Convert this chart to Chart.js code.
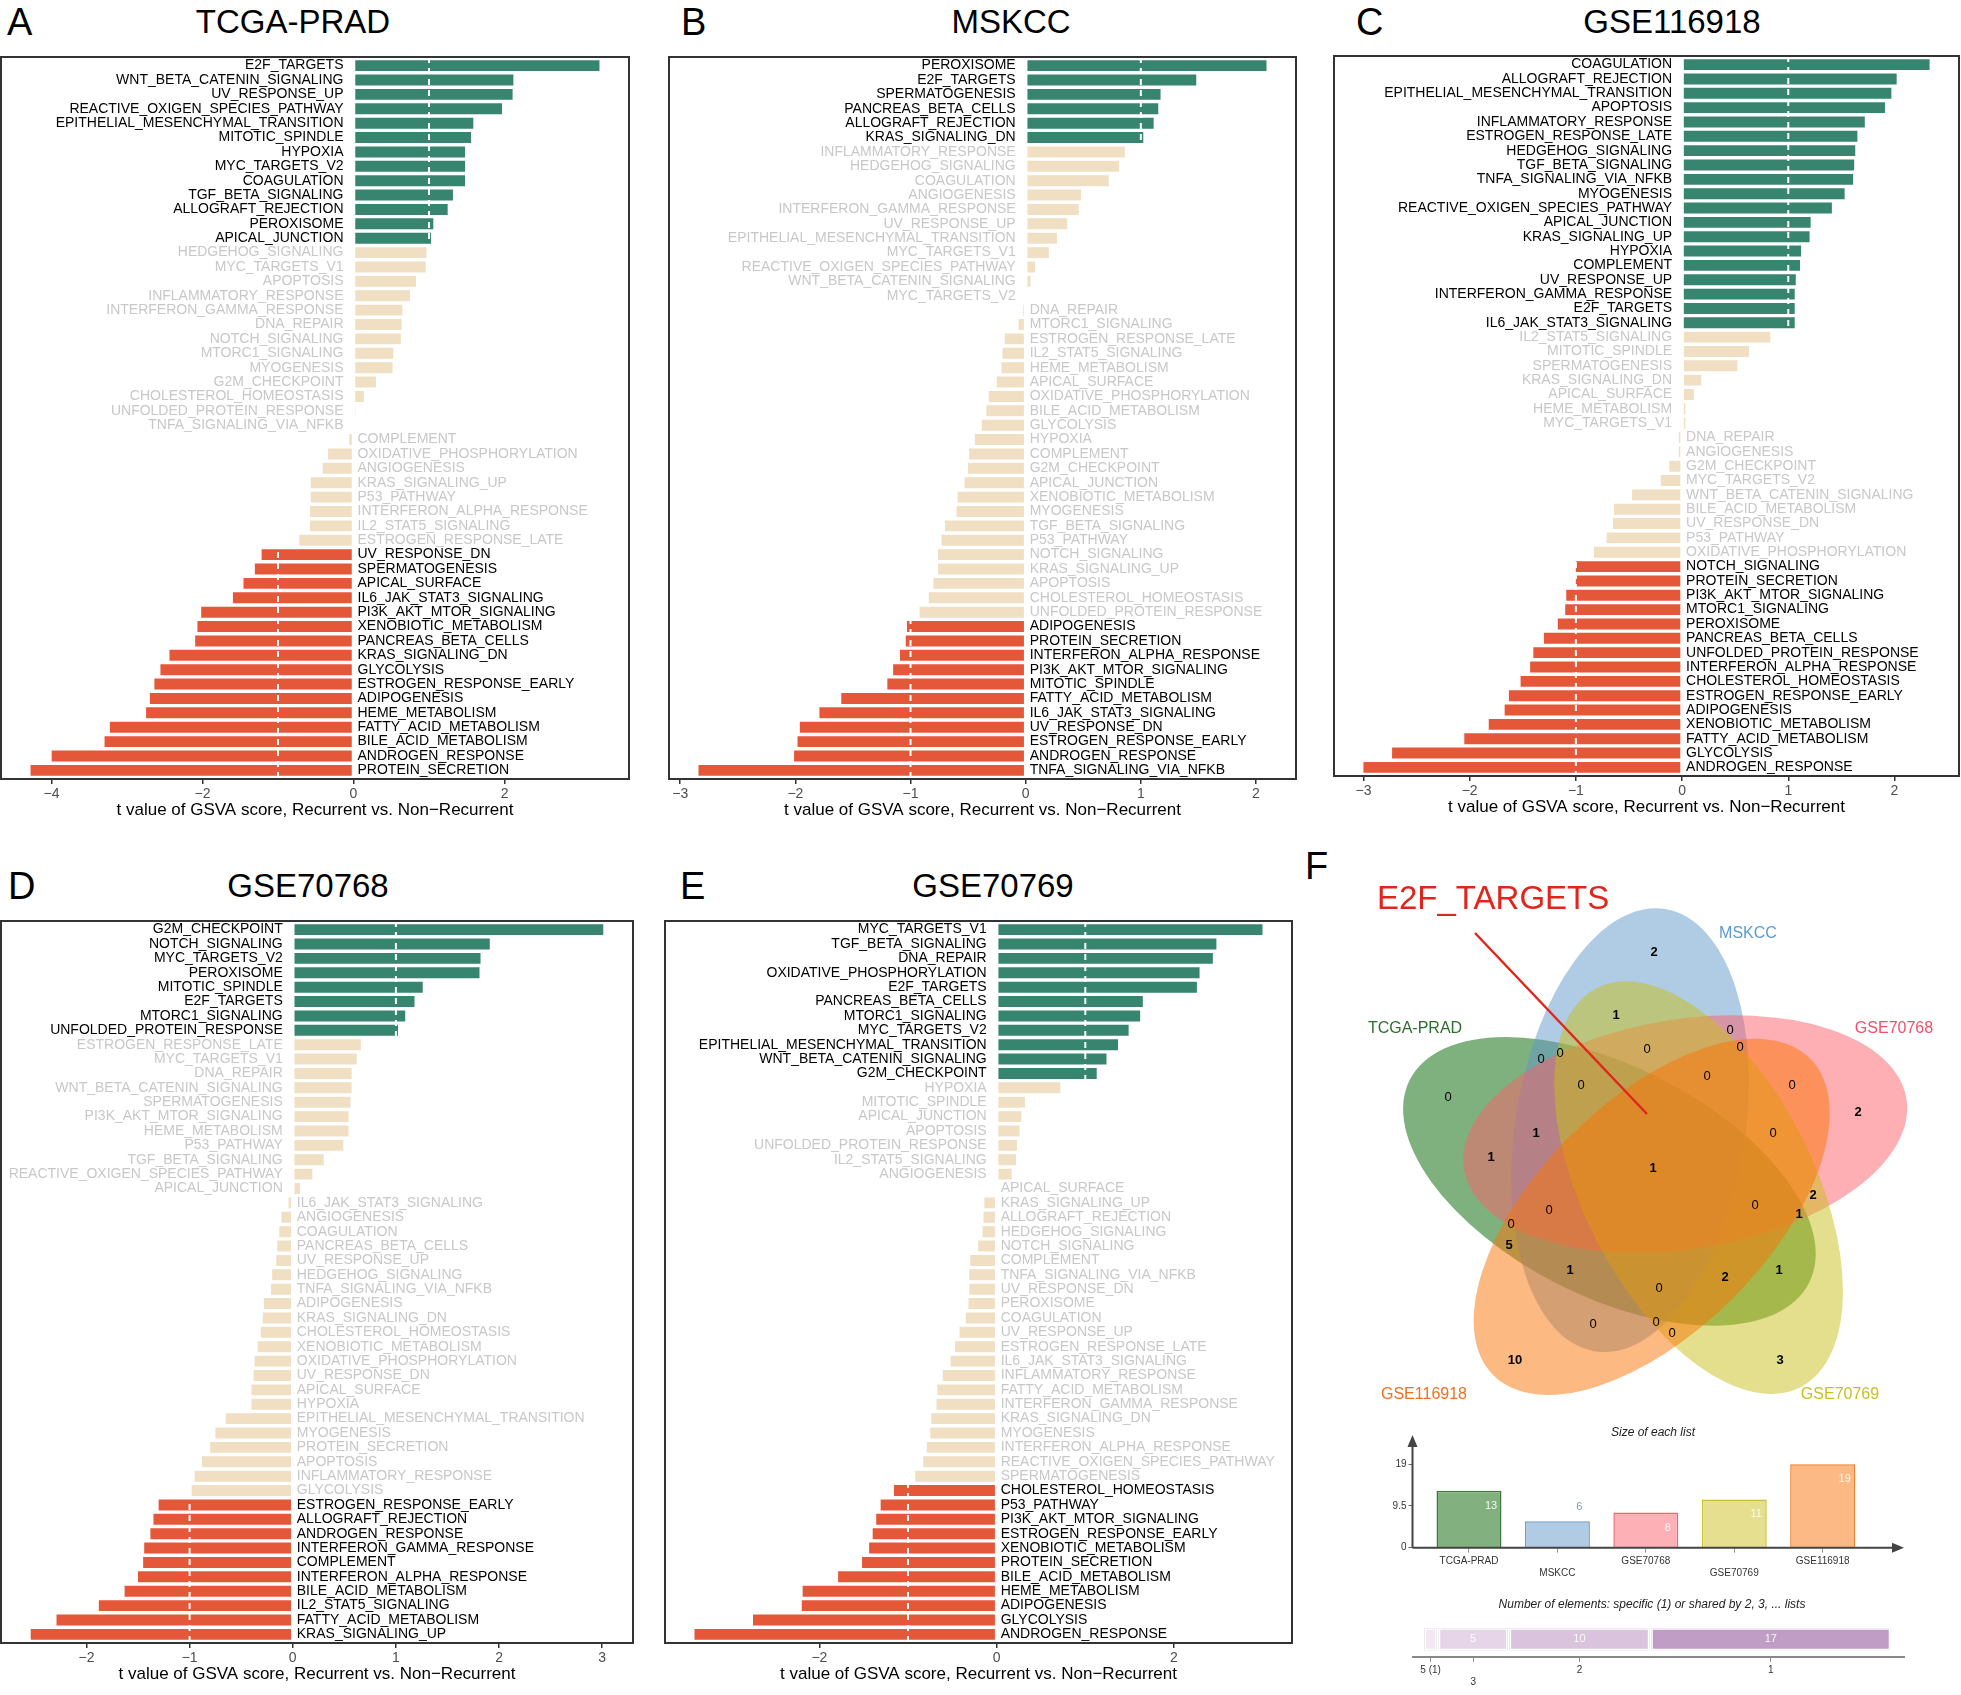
<!DOCTYPE html>
<html>
<head>
<meta charset="utf-8">
<title>GSVA hallmark t values, recurrent vs non-recurrent</title>
<script src="https://cdn.jsdelivr.net/npm/chart.js@4.4.1/dist/chart.umd.min.js"></script>
<style>
  body { margin: 0; background: #fff; }
  #page { position: relative; width: 1961px; height: 1695px; overflow: hidden; background: #fff;
          font-family: "Liberation Sans", Arial, Helvetica, sans-serif; color: #000; }
  #page canvas { position: absolute; display: block; }
  .txt { position: absolute; transform: translate(-50%, -50%); white-space: nowrap; line-height: normal; }
  .letter { position: absolute; transform: translateY(-50%); font-size: 38px; line-height: normal; }
  .ptitle { font-size: 33px; }
  .small { font-size: 12px; font-style: italic; color: #222; }
</style>
</head>
<body>
<div id="page">
  <div class="letter" style="left:7px;top:22px">A</div>
  <div class="txt ptitle" style="left:293px;top:22px">TCGA-PRAD</div>
  <div class="letter" style="left:681px;top:22px">B</div>
  <div class="txt ptitle" style="left:1011px;top:22px">MSKCC</div>
  <div class="letter" style="left:1356px;top:22px">C</div>
  <div class="txt ptitle" style="left:1672px;top:22px">GSE116918</div>
  <div class="letter" style="left:8px;top:886px">D</div>
  <div class="txt ptitle" style="left:308px;top:886px">GSE70768</div>
  <div class="letter" style="left:680px;top:886px">E</div>
  <div class="txt ptitle" style="left:993px;top:886px">GSE70769</div>
  <div class="letter" style="left:1305px;top:866px">F</div>

  <canvas id="chartA"></canvas>
  <canvas id="chartB"></canvas>
  <canvas id="chartC"></canvas>
  <canvas id="chartD"></canvas>
  <canvas id="chartE"></canvas>
  <canvas id="venn"></canvas>
  <canvas id="sizes"></canvas>
  <canvas id="shared"></canvas>

  <div class="txt small" style="left:1653px;top:1432px">Size of each list</div>
  <div class="txt small" style="left:1652px;top:1604px">Number of elements: specific (1) or shared by 2, 3, ... lists</div>
</div>

<script>
Chart.defaults.font.family = '"Liberation Sans", Arial, Helvetica, sans-serif';

// HALLMARK t VALUES OF GSVA SCORE, ONE PAIR OF ARRAYS PER COHORT (top to bottom)

const tcgaPathways = ['E2F_TARGETS', 'WNT_BETA_CATENIN_SIGNALING', 'UV_RESPONSE_UP', 'REACTIVE_OXIGEN_SPECIES_PATHWAY',
  'EPITHELIAL_MESENCHYMAL_TRANSITION', 'MITOTIC_SPINDLE', 'HYPOXIA', 'MYC_TARGETS_V2', 'COAGULATION', 'TGF_BETA_SIGNALING',
  'ALLOGRAFT_REJECTION', 'PEROXISOME', 'APICAL_JUNCTION', 'HEDGEHOG_SIGNALING', 'MYC_TARGETS_V1', 'APOPTOSIS',
  'INFLAMMATORY_RESPONSE', 'INTERFERON_GAMMA_RESPONSE', 'DNA_REPAIR', 'NOTCH_SIGNALING', 'MTORC1_SIGNALING', 'MYOGENESIS',
  'G2M_CHECKPOINT', 'CHOLESTEROL_HOMEOSTASIS', 'UNFOLDED_PROTEIN_RESPONSE', 'TNFA_SIGNALING_VIA_NFKB', 'COMPLEMENT',
  'OXIDATIVE_PHOSPHORYLATION', 'ANGIOGENESIS', 'KRAS_SIGNALING_UP', 'P53_PATHWAY', 'INTERFERON_ALPHA_RESPONSE',
  'IL2_STAT5_SIGNALING', 'ESTROGEN_RESPONSE_LATE', 'UV_RESPONSE_DN', 'SPERMATOGENESIS', 'APICAL_SURFACE',
  'IL6_JAK_STAT3_SIGNALING', 'PI3K_AKT_MTOR_SIGNALING', 'XENOBIOTIC_METABOLISM', 'PANCREAS_BETA_CELLS', 'KRAS_SIGNALING_DN',
  'GLYCOLYSIS', 'ESTROGEN_RESPONSE_EARLY', 'ADIPOGENESIS', 'HEME_METABOLISM', 'FATTY_ACID_METABOLISM',
  'BILE_ACID_METABOLISM', 'ANDROGEN_RESPONSE', 'PROTEIN_SECRETION'];
const tcgaT = [3.27, 2.13, 2.12, 1.98, 1.60, 1.57, 1.49, 1.49, 1.49, 1.33, 1.26, 1.07, 1.04, 0.98, 0.97, 0.84, 0.76,
  0.66, 0.65, 0.64, 0.54, 0.53, 0.31, 0.15, 0.04, 0.03, -0.07, -0.35, -0.42, -0.58, -0.58, -0.59, -0.59, -0.73,
  -1.23, -1.32, -1.47, -1.61, -2.03, -2.08, -2.11, -2.45, -2.57, -2.65, -2.71, -2.76, -3.24, -3.31, -4.01, -4.29];
const tcgaTicks = [-4, -2, 0, 2];

const mskccPathways = ['PEROXISOME', 'E2F_TARGETS', 'SPERMATOGENESIS', 'PANCREAS_BETA_CELLS', 'ALLOGRAFT_REJECTION',
  'KRAS_SIGNALING_DN', 'INFLAMMATORY_RESPONSE', 'HEDGEHOG_SIGNALING', 'COAGULATION', 'ANGIOGENESIS',
  'INTERFERON_GAMMA_RESPONSE', 'UV_RESPONSE_UP', 'EPITHELIAL_MESENCHYMAL_TRANSITION', 'MYC_TARGETS_V1',
  'REACTIVE_OXIGEN_SPECIES_PATHWAY', 'WNT_BETA_CATENIN_SIGNALING', 'MYC_TARGETS_V2', 'DNA_REPAIR', 'MTORC1_SIGNALING',
  'ESTROGEN_RESPONSE_LATE', 'IL2_STAT5_SIGNALING', 'HEME_METABOLISM', 'APICAL_SURFACE', 'OXIDATIVE_PHOSPHORYLATION',
  'BILE_ACID_METABOLISM', 'GLYCOLYSIS', 'HYPOXIA', 'COMPLEMENT', 'G2M_CHECKPOINT', 'APICAL_JUNCTION',
  'XENOBIOTIC_METABOLISM', 'MYOGENESIS', 'TGF_BETA_SIGNALING', 'P53_PATHWAY', 'NOTCH_SIGNALING', 'KRAS_SIGNALING_UP',
  'APOPTOSIS', 'CHOLESTEROL_HOMEOSTASIS', 'UNFOLDED_PROTEIN_RESPONSE', 'ADIPOGENESIS', 'PROTEIN_SECRETION',
  'INTERFERON_ALPHA_RESPONSE', 'PI3K_AKT_MTOR_SIGNALING', 'MITOTIC_SPINDLE', 'FATTY_ACID_METABOLISM',
  'IL6_JAK_STAT3_SIGNALING', 'UV_RESPONSE_DN', 'ESTROGEN_RESPONSE_EARLY', 'ANDROGEN_RESPONSE', 'TNFA_SIGNALING_VIA_NFKB'];
const mskccT = [2.10, 1.49, 1.18, 1.16, 1.12, 1.03, 0.87, 0.82, 0.73, 0.49, 0.47, 0.37, 0.28, 0.21, 0.09, 0.05, 0.01,
  -0.03, -0.07, -0.19, -0.21, -0.22, -0.26, -0.33, -0.35, -0.39, -0.45, -0.50, -0.51, -0.54, -0.60, -0.61, -0.71,
  -0.74, -0.77, -0.77, -0.81, -0.85, -0.93, -1.04, -1.05, -1.10, -1.16, -1.21, -1.61, -1.80, -1.97, -1.99, -2.02, -2.85];
const mskccTicks = [-3, -2, -1, 0, 1, 2];

const gse116918Pathways = ['COAGULATION', 'ALLOGRAFT_REJECTION', 'EPITHELIAL_MESENCHYMAL_TRANSITION', 'APOPTOSIS',
  'INFLAMMATORY_RESPONSE', 'ESTROGEN_RESPONSE_LATE', 'HEDGEHOG_SIGNALING', 'TGF_BETA_SIGNALING', 'TNFA_SIGNALING_VIA_NFKB',
  'MYOGENESIS', 'REACTIVE_OXIGEN_SPECIES_PATHWAY', 'APICAL_JUNCTION', 'KRAS_SIGNALING_UP', 'HYPOXIA', 'COMPLEMENT',
  'UV_RESPONSE_UP', 'INTERFERON_GAMMA_RESPONSE', 'E2F_TARGETS', 'IL6_JAK_STAT3_SIGNALING', 'IL2_STAT5_SIGNALING',
  'MITOTIC_SPINDLE', 'SPERMATOGENESIS', 'KRAS_SIGNALING_DN', 'APICAL_SURFACE', 'HEME_METABOLISM', 'MYC_TARGETS_V1',
  'DNA_REPAIR', 'ANGIOGENESIS', 'G2M_CHECKPOINT', 'MYC_TARGETS_V2', 'WNT_BETA_CATENIN_SIGNALING', 'BILE_ACID_METABOLISM',
  'UV_RESPONSE_DN', 'P53_PATHWAY', 'OXIDATIVE_PHOSPHORYLATION', 'NOTCH_SIGNALING', 'PROTEIN_SECRETION',
  'PI3K_AKT_MTOR_SIGNALING', 'MTORC1_SIGNALING', 'PEROXISOME', 'PANCREAS_BETA_CELLS', 'UNFOLDED_PROTEIN_RESPONSE',
  'INTERFERON_ALPHA_RESPONSE', 'CHOLESTEROL_HOMEOSTASIS', 'ESTROGEN_RESPONSE_EARLY', 'ADIPOGENESIS',
  'XENOBIOTIC_METABOLISM', 'FATTY_ACID_METABOLISM', 'GLYCOLYSIS', 'ANDROGEN_RESPONSE'];
const gse116918T = [2.34, 2.03, 1.98, 1.92, 1.73, 1.66, 1.64, 1.63, 1.62, 1.54, 1.42, 1.22, 1.21, 1.13, 1.12, 1.08,
  1.07, 1.07, 1.07, 0.84, 0.64, 0.53, 0.19, 0.12, 0.04, 0.04, -0.04, -0.04, -0.13, -0.21, -0.48, -0.65, -0.66, -0.72,
  -0.84, -1.01, -1.01, -1.10, -1.11, -1.18, -1.31, -1.41, -1.44, -1.53, -1.64, -1.68, -1.83, -2.06, -2.74, -3.01];
const gse116918Ticks = [-3, -2, -1, 0, 1, 2];

const gse70768Pathways = ['G2M_CHECKPOINT', 'NOTCH_SIGNALING', 'MYC_TARGETS_V2', 'PEROXISOME', 'MITOTIC_SPINDLE',
  'E2F_TARGETS', 'MTORC1_SIGNALING', 'UNFOLDED_PROTEIN_RESPONSE', 'ESTROGEN_RESPONSE_LATE', 'MYC_TARGETS_V1', 'DNA_REPAIR',
  'WNT_BETA_CATENIN_SIGNALING', 'SPERMATOGENESIS', 'PI3K_AKT_MTOR_SIGNALING', 'HEME_METABOLISM', 'P53_PATHWAY',
  'TGF_BETA_SIGNALING', 'REACTIVE_OXIGEN_SPECIES_PATHWAY', 'APICAL_JUNCTION', 'IL6_JAK_STAT3_SIGNALING', 'ANGIOGENESIS',
  'COAGULATION', 'PANCREAS_BETA_CELLS', 'UV_RESPONSE_UP', 'HEDGEHOG_SIGNALING', 'TNFA_SIGNALING_VIA_NFKB', 'ADIPOGENESIS',
  'KRAS_SIGNALING_DN', 'CHOLESTEROL_HOMEOSTASIS', 'XENOBIOTIC_METABOLISM', 'OXIDATIVE_PHOSPHORYLATION', 'UV_RESPONSE_DN',
  'APICAL_SURFACE', 'HYPOXIA', 'EPITHELIAL_MESENCHYMAL_TRANSITION', 'MYOGENESIS', 'PROTEIN_SECRETION', 'APOPTOSIS',
  'INFLAMMATORY_RESPONSE', 'GLYCOLYSIS', 'ESTROGEN_RESPONSE_EARLY', 'ALLOGRAFT_REJECTION', 'ANDROGEN_RESPONSE',
  'INTERFERON_GAMMA_RESPONSE', 'COMPLEMENT', 'INTERFERON_ALPHA_RESPONSE', 'BILE_ACID_METABOLISM', 'IL2_STAT5_SIGNALING',
  'FATTY_ACID_METABOLISM', 'KRAS_SIGNALING_UP'];
const gse70768T = [3.02, 1.92, 1.83, 1.82, 1.27, 1.19, 1.10, 1.03, 0.67, 0.63, 0.58, 0.58, 0.57, 0.55, 0.55, 0.50,
  0.31, 0.20, 0.08, -0.05, -0.12, -0.14, -0.16, -0.17, -0.21, -0.22, -0.29, -0.30, -0.32, -0.35, -0.38, -0.39, -0.41,
  -0.41, -0.66, -0.76, -0.81, -0.89, -0.96, -0.99, -1.31, -1.36, -1.39, -1.45, -1.46, -1.51, -1.64, -1.89, -2.30, -2.55];
const gse70768Ticks = [-2, -1, 0, 1, 2, 3];

const gse70769Pathways = ['MYC_TARGETS_V1', 'TGF_BETA_SIGNALING', 'DNA_REPAIR', 'OXIDATIVE_PHOSPHORYLATION',
  'E2F_TARGETS', 'PANCREAS_BETA_CELLS', 'MTORC1_SIGNALING', 'MYC_TARGETS_V2', 'EPITHELIAL_MESENCHYMAL_TRANSITION',
  'WNT_BETA_CATENIN_SIGNALING', 'G2M_CHECKPOINT', 'HYPOXIA', 'MITOTIC_SPINDLE', 'APICAL_JUNCTION', 'APOPTOSIS',
  'UNFOLDED_PROTEIN_RESPONSE', 'IL2_STAT5_SIGNALING', 'ANGIOGENESIS', 'APICAL_SURFACE', 'KRAS_SIGNALING_UP',
  'ALLOGRAFT_REJECTION', 'HEDGEHOG_SIGNALING', 'NOTCH_SIGNALING', 'COMPLEMENT', 'TNFA_SIGNALING_VIA_NFKB', 'UV_RESPONSE_DN',
  'PEROXISOME', 'COAGULATION', 'UV_RESPONSE_UP', 'ESTROGEN_RESPONSE_LATE', 'IL6_JAK_STAT3_SIGNALING',
  'INFLAMMATORY_RESPONSE', 'FATTY_ACID_METABOLISM', 'INTERFERON_GAMMA_RESPONSE', 'KRAS_SIGNALING_DN', 'MYOGENESIS',
  'INTERFERON_ALPHA_RESPONSE', 'REACTIVE_OXIGEN_SPECIES_PATHWAY', 'SPERMATOGENESIS', 'CHOLESTEROL_HOMEOSTASIS',
  'P53_PATHWAY', 'PI3K_AKT_MTOR_SIGNALING', 'ESTROGEN_RESPONSE_EARLY', 'XENOBIOTIC_METABOLISM', 'PROTEIN_SECRETION',
  'BILE_ACID_METABOLISM', 'HEME_METABOLISM', 'ADIPOGENESIS', 'GLYCOLYSIS', 'ANDROGEN_RESPONSE'];
const gse70769T = [3.01, 2.49, 2.45, 2.30, 2.27, 1.66, 1.63, 1.50, 1.38, 1.25, 1.14, 0.73, 0.33, 0.29, 0.27, 0.24,
  0.23, 0.18, -0.01, -0.15, -0.16, -0.17, -0.22, -0.31, -0.32, -0.32, -0.33, -0.36, -0.43, -0.48, -0.53, -0.62, -0.68,
  -0.69, -0.75, -0.76, -0.80, -0.84, -0.93, -1.17, -1.32, -1.37, -1.41, -1.45, -1.53, -1.80, -2.20, -2.21, -2.76, -3.42];
const gse70769Ticks = [-2, 0, 2];

// |t| cut-off for colouring (dashed white lines)
const sigCut = 1;

// VENN (panel F)
const vennSets = ['TCGA-PRAD', 'MSKCC', 'GSE70768', 'GSE70769', 'GSE116918'];
const vennCounts = [2, 1, 0, 0, 0, 0, 0, 0, 0, 0, 0, 2, 1, 1, 0, 1, 2, 1, 0, 0, 0, 5, 1, 2, 1, 0, 0, 0, 0, 10, 3];
const vennCountX = [-1, -39, 75, 85, -8, -114, -95, -207, -74, 52, 137, 203, -119, -164, 118, -2, 158, 144, 100,
  -106, -144, -146, -85, 70, 124, 4, -62, 1, 17, -140, 125];
const vennCountY = [-218, -155, -140, -123, -121, -111, -117, -73, -85, -94, -85, -58, -37, -13, -37, -2, 25, 44, 35,
  40, 54, 75, 100, 107, 100, 118, 154, 152, 163, 190, 190];
const vennHighlight = 'E2F_TARGETS';

const listSizes = [13, 6, 8, 11, 19];
const sizeTicks = [0, 9.5, 19];
const sharedBy = [5, 4, 3, 2, 1];
const sharedCounts = [1, 0, 5, 10, 17];


// ---------- GSVA BAR PANELS ----------

function barColour(v) {
  if (v >= sigCut) return '#37856f';
  if (v <= -sigCut) return '#e45738';
  return '#f1dfc3';
}

function minus(v) {
  return v < 0 ? '\u2212' + Math.abs(v) : String(v);
}

function gsvaDecor(names, tvals) {
  return {
    id: 'gsvaDecor',
    afterDatasetsDraw(chart) {
      const { ctx, chartArea: a, scales: { x } } = chart;
      const bars = chart.getDatasetMeta(0).data;
      ctx.save();
      // white dashed cut-offs, only show up on the coloured bars
      ctx.strokeStyle = '#ffffff';
      ctx.lineWidth = 2;
      ctx.setLineDash([6, 5]);
      [-sigCut, sigCut].forEach(c => {
        const px = x.getPixelForValue(c);
        ctx.beginPath();
        ctx.moveTo(px, a.top);
        ctx.lineTo(px, a.bottom);
        ctx.stroke();
      });
      ctx.setLineDash([]);

      // pathway names next to the zero line
      const x0 = x.getPixelForValue(0);
      ctx.font = '14px "Liberation Sans", Arial, sans-serif';
      ctx.textBaseline = 'middle';
      names.forEach((n, i) => {
        const v = tvals[i];
        ctx.fillStyle = Math.abs(v) >= sigCut ? '#000000' : '#c8c8c8';
        if (v >= 0) {
          ctx.textAlign = 'right';
          ctx.fillText(n, x0 - 10, bars[i].y);
        } else {
          ctx.textAlign = 'left';
          ctx.fillText(n, x0 + 4, bars[i].y);
        }
      });

      // panel box
      ctx.strokeStyle = '#333333';
      ctx.lineWidth = 2;
      ctx.strokeRect(a.left, a.top, a.right - a.left, a.bottom - a.top);
      ctx.restore();
    }
  };
}

function gsvaChart(p) {
  const cv = document.getElementById(p.id);
  const pad = 2, axisH = 46;
  const f = p.frame;
  cv.width = f.right - f.left + 2 * pad;
  cv.height = f.bottom - f.top + pad + axisH;
  cv.style.left = (f.left - pad) + 'px';
  cv.style.top = (f.top - pad) + 'px';

  // ggplot style 5% expansion of the data range
  const lo = Math.min(...p.t), hi = Math.max(...p.t), span = hi - lo;

  new Chart(cv, {
    type: 'bar',
    data: {
      datasets: [{
        data: p.t.map((v, i) => ({ x: v, y: i })),
        backgroundColor: p.t.map(barColour),
        borderColor: 'rgba(255,255,255,0.45)',
        borderWidth: 1,
        borderSkipped: false,
        categoryPercentage: 0.9,
        barPercentage: 1
      }]
    },
    options: {
      indexAxis: 'y',
      responsive: false,
      animation: false,
      events: [],
      layout: { padding: { left: pad, right: pad, top: pad, bottom: 0 } },
      plugins: { legend: { display: false }, tooltip: { enabled: false } },
      scales: {
        y: { type: 'linear', min: -0.6, max: p.names.length - 0.4, reverse: true, offset: false,
             grid: { offset: false }, display: false },
        x: {
          type: 'linear',
          min: lo - 0.05 * span,
          max: hi + 0.05 * span,
          afterBuildTicks: s => { s.ticks = p.ticks.map(v => ({ value: v })); },
          afterFit: s => { s.height = axisH; },
          grid: { drawOnChartArea: false, drawTicks: true, tickLength: 5, color: '#333333', lineWidth: 1.5 },
          border: { display: false },
          ticks: { color: '#4d4d4d', font: { size: 14 }, padding: 2, maxRotation: 0, callback: v => minus(v) },
          title: {
            display: true,
            text: 't value of GSVA score, Recurrent vs. Non\u2212Recurrent',
            color: '#000000',
            font: { size: 17 },
            padding: { top: 4, bottom: 4 }
          }
        }
      }
    },
    plugins: [gsvaDecor(p.names, p.t)]
  });
}

const panels = [
  { id: 'chartA', frame: { left: 1, top: 57, right: 629, bottom: 779 }, names: tcgaPathways, t: tcgaT, ticks: tcgaTicks },
  { id: 'chartB', frame: { left: 669, top: 57, right: 1296, bottom: 779 }, names: mskccPathways, t: mskccT, ticks: mskccTicks },
  { id: 'chartC', frame: { left: 1334, top: 56, right: 1959, bottom: 776 }, names: gse116918Pathways, t: gse116918T, ticks: gse116918Ticks },
  { id: 'chartD', frame: { left: 1, top: 921, right: 633, bottom: 1643 }, names: gse70768Pathways, t: gse70768T, ticks: gse70768Ticks },
  { id: 'chartE', frame: { left: 665, top: 921, right: 1292, bottom: 1643 }, names: gse70769Pathways, t: gse70769T, ticks: gse70769Ticks }
];
panels.forEach(gsvaChart);


// ---------- VENN DIAGRAM ----------

const vennFill = ['rgba(0,100,0,0.5)', 'rgba(97,151,201,0.5)', 'rgba(251,95,105,0.5)', 'rgba(201,191,25,0.5)', 'rgba(251,115,5,0.5)'];
const vennText = ['#2e6e2e', '#5b9bd5', '#f0506a', '#c9c020', '#f07020'];
// slot of each set on the pentagon (0 = top, clockwise)
const vennSlot = [4, 0, 1, 2, 3];
// where the set names sit, in the venn's own units
const vennNameX = [-240, 93, 239, 185, -231];
const vennNameY = [-141, -236, -141, 225, 225];

const vennCanvas = document.getElementById('venn');
vennCanvas.width = 661; vennCanvas.height = 580;
vennCanvas.style.left = '1300px'; vennCanvas.style.top = '840px';

const vennDraw = {
  id: 'vennDraw',
  beforeDatasetsDraw(chart) {
    const { ctx, scales: { x, y } } = chart;
    const unit = x.getPixelForValue(1) - x.getPixelForValue(0);
    const offset = 47, semiMajor = 224, semiMinor = 115;
    ctx.save();
    vennSets.forEach((s, i) => {
      const k = vennSlot[i];
      const ang = (-122 + 72 * k) * Math.PI / 180;
      const tilt = (9 + 72 * k) * Math.PI / 180;
      const cx = x.getPixelForValue(offset * Math.cos(ang));
      const cy = y.getPixelForValue(offset * Math.sin(ang));
      ctx.fillStyle = vennFill[i];
      ctx.beginPath();
      ctx.ellipse(cx, cy, semiMinor * unit, semiMajor * unit, tilt, 0, Math.PI * 2);
      ctx.fill();
    });
    ctx.restore();
  },
  afterDatasetsDraw(chart) {
    const { ctx, scales: { x, y } } = chart;
    const pts = chart.getDatasetMeta(0).data;
    ctx.save();
    ctx.textAlign = 'center';
    ctx.textBaseline = 'middle';
    ctx.fillStyle = '#000';
    vennCounts.forEach((c, i) => {
      ctx.font = (c > 0 ? 'bold ' : '') + '13px "Liberation Sans", Arial, sans-serif';
      ctx.fillText(String(c), pts[i].x, pts[i].y);
    });
    ctx.font = '16px "Liberation Sans", Arial, sans-serif';
    vennSets.forEach((s, i) => {
      ctx.fillStyle = vennText[i];
      ctx.fillText(s, x.getPixelForValue(vennNameX[i]), y.getPixelForValue(vennNameY[i]));
    });
    // call-out for the one shared hallmark
    ctx.strokeStyle = '#e0261c';
    ctx.lineWidth = 2.5;
    ctx.beginPath();
    ctx.moveTo(x.getPixelForValue(-180), y.getPixelForValue(-237));
    ctx.lineTo(x.getPixelForValue(vennCountX[15] - 6), y.getPixelForValue(vennCountY[15] - 54));
    ctx.stroke();
    ctx.fillStyle = '#e0261c';
    ctx.textAlign = 'left';
    ctx.font = '33px "Liberation Sans", Arial, sans-serif';
    ctx.fillText(vennHighlight, x.getPixelForValue(-278), y.getPixelForValue(-270));
    ctx.restore();
  }
};

new Chart(vennCanvas, {
  type: 'scatter',
  data: { datasets: [{ data: vennCountX.map((vx, i) => ({ x: vx, y: vennCountY[i] })), pointRadius: 0 }] },
  options: {
    responsive: false, animation: false, events: [],
    layout: { padding: 0 },
    plugins: { legend: { display: false }, tooltip: { enabled: false } },
    scales: {
      x: { type: 'linear', min: -355, max: 306, display: false },
      y: { type: 'linear', min: -330, max: 250, reverse: true, display: false }
    }
  },
  plugins: [vennDraw]
});


// ---------- SIZE OF EACH LIST ----------

const sizeFill = ['#82b07e', '#b0cbe3', '#fdb0b5', '#e5df8f', '#fcb985'];
const sizeLine = ['#3f7a3f', '#6a9fd0', '#f06475', '#c8c030', '#f0802c'];

const sizesCanvas = document.getElementById('sizes');
sizesCanvas.width = 581; sizesCanvas.height = 180;
sizesCanvas.style.left = '1380px'; sizesCanvas.style.top = '1420px';

function arrowHead(ctx, x, y, dir) {
  ctx.beginPath();
  if (dir === 'up') {
    ctx.moveTo(x, y); ctx.lineTo(x - 5, y + 12); ctx.lineTo(x + 5, y + 12);
  } else {
    ctx.moveTo(x, y); ctx.lineTo(x - 12, y - 5); ctx.lineTo(x - 12, y + 5);
  }
  ctx.closePath();
  ctx.fill();
}

const sizeDecor = {
  id: 'sizeDecor',
  afterDatasetsDraw(chart) {
    const { ctx, chartArea: a } = chart;
    const bars = chart.getDatasetMeta(0).data;
    ctx.save();
    ctx.font = '11px "Liberation Sans", Arial, sans-serif';
    ctx.textAlign = 'center';
    ctx.textBaseline = 'middle';
    bars.forEach((b, i) => {
      const h = b.base - b.y;
      if (h < 30) {
        ctx.fillStyle = sizeLine[i];
        ctx.fillText(String(listSizes[i]), b.x + 22, b.y - 14);
      } else {
        ctx.fillStyle = 'rgba(255,255,255,0.9)';
        ctx.fillText(String(listSizes[i]), b.x + 22, b.y + 15);
      }
    });
    // axes with arrow heads
    ctx.strokeStyle = '#444';
    ctx.fillStyle = '#444';
    ctx.lineWidth = 2;
    ctx.beginPath();
    ctx.moveTo(a.left, a.bottom); ctx.lineTo(a.left, a.top + 6);
    ctx.moveTo(a.left, a.bottom); ctx.lineTo(a.right - 6, a.bottom);
    ctx.stroke();
    arrowHead(ctx, a.left, a.top, 'up');
    arrowHead(ctx, a.right, a.bottom, 'right');
    ctx.restore();
  }
};

new Chart(sizesCanvas, {
  type: 'bar',
  data: {
    datasets: [{
      data: listSizes.map((v, i) => ({ x: i + 1, y: v })),
      backgroundColor: sizeFill,
      borderColor: sizeLine,
      borderWidth: 1.5,
      categoryPercentage: 1,
      barPercentage: 0.735
    }]
  },
  options: {
    responsive: false, animation: false, events: [],
    layout: { padding: { left: 0, top: 15, right: 57, bottom: 0 } },
    plugins: { legend: { display: false }, tooltip: { enabled: false } },
    scales: {
      x: {
        type: 'linear', min: 0.361, max: 5.92, offset: false,
        afterBuildTicks: s => { s.ticks = vennSets.map((n, i) => ({ value: i + 1 })); },
        afterFit: s => { s.height = 52.3; },
        grid: { offset: false, drawOnChartArea: false, drawTicks: true, tickLength: 5, color: '#999' },
        border: { display: false },
        ticks: {
          color: '#333', font: { size: 10 }, padding: 3, maxRotation: 0, autoSkip: false,
          // every second name goes one line lower so they do not collide
          callback: (v, i) => (i % 2 ? ['', vennSets[i]] : vennSets[i])
        }
      },
      y: {
        type: 'linear', min: 0, max: 25.67,
        afterBuildTicks: s => { s.ticks = sizeTicks.map(v => ({ value: v })); },
        afterFit: s => { s.width = 32.5; },
        grid: { drawOnChartArea: false, drawTicks: true, tickLength: 4, color: '#666' },
        border: { display: false },
        ticks: { color: '#333', font: { size: 10 }, padding: 2 }
      }
    }
  },
  plugins: [sizeDecor]
});


// ---------- NUMBER OF ELEMENTS SHARED ----------

const sharedFill = ['#f2e8f2', '#ecdeed', '#e6d5e8', '#d9c3dd', '#bf9dc5'];

const sharedCanvas = document.getElementById('shared');
sharedCanvas.width = 581; sharedCanvas.height = 83;
sharedCanvas.style.left = '1380px'; sharedCanvas.style.top = '1612px';

// centre of each non empty segment along the stacked bar
const sharedCentres = [];
const sharedTickText = [];
let run = 0;
sharedCounts.forEach((c, i) => {
  if (c > 0) {
    sharedCentres.push(run + c / 2);
    sharedTickText.push(c < 2 ? sharedBy[i] + ' (' + c + ')' : String(sharedBy[i]));
  }
  run += c;
});

const sharedDecor = {
  id: 'sharedDecor',
  afterDatasetsDraw(chart) {
    const { ctx } = chart;
    ctx.save();
    ctx.font = '11px "Liberation Sans", Arial, sans-serif';
    ctx.textAlign = 'center';
    ctx.textBaseline = 'middle';
    ctx.fillStyle = 'rgba(255,255,255,0.9)';
    sharedCounts.forEach((c, i) => {
      const el = chart.getDatasetMeta(i).data[0];
      if (c > 1) ctx.fillText(String(c), (el.x + el.base) / 2, el.y);
    });
    ctx.restore();
  }
};

new Chart(sharedCanvas, {
  type: 'bar',
  data: {
    labels: [''],
    datasets: sharedBy.map((n, i) => ({
      label: 'shared by ' + n,
      data: [sharedCounts[i]],
      backgroundColor: sharedFill[i],
      borderColor: '#a0a0a0',
      borderWidth: 1.5,
      borderSkipped: false,
      inflateAmount: -1,
      barThickness: 24
    }))
  },
  options: {
    indexAxis: 'y',
    responsive: false, animation: false, events: [],
    layout: { padding: { left: 32.5, top: 10, right: 57, bottom: 0 } },
    plugins: { legend: { display: false }, tooltip: { enabled: false } },
    scales: {
      y: { stacked: true, display: false },
      x: {
        stacked: true, type: 'linear', min: -0.78, max: 33.9,
        afterBuildTicks: s => { s.ticks = sharedCentres.map(v => ({ value: v })); },
        afterFit: s => { s.height = 38.3; },
        grid: { drawOnChartArea: false, drawTicks: true, tickLength: 5, color: '#888' },
        border: { display: true, color: '#888', width: 2 },
        ticks: {
          color: '#333', font: { size: 10 }, padding: 3, maxRotation: 0, autoSkip: false,
          // the second label sits right next to the first one, push it down a line
          callback: (v, i) => (i === 1 ? ['', sharedTickText[i]] : sharedTickText[i])
        }
      }
    }
  },
  plugins: [sharedDecor]
});
</script>
</body>
</html>
